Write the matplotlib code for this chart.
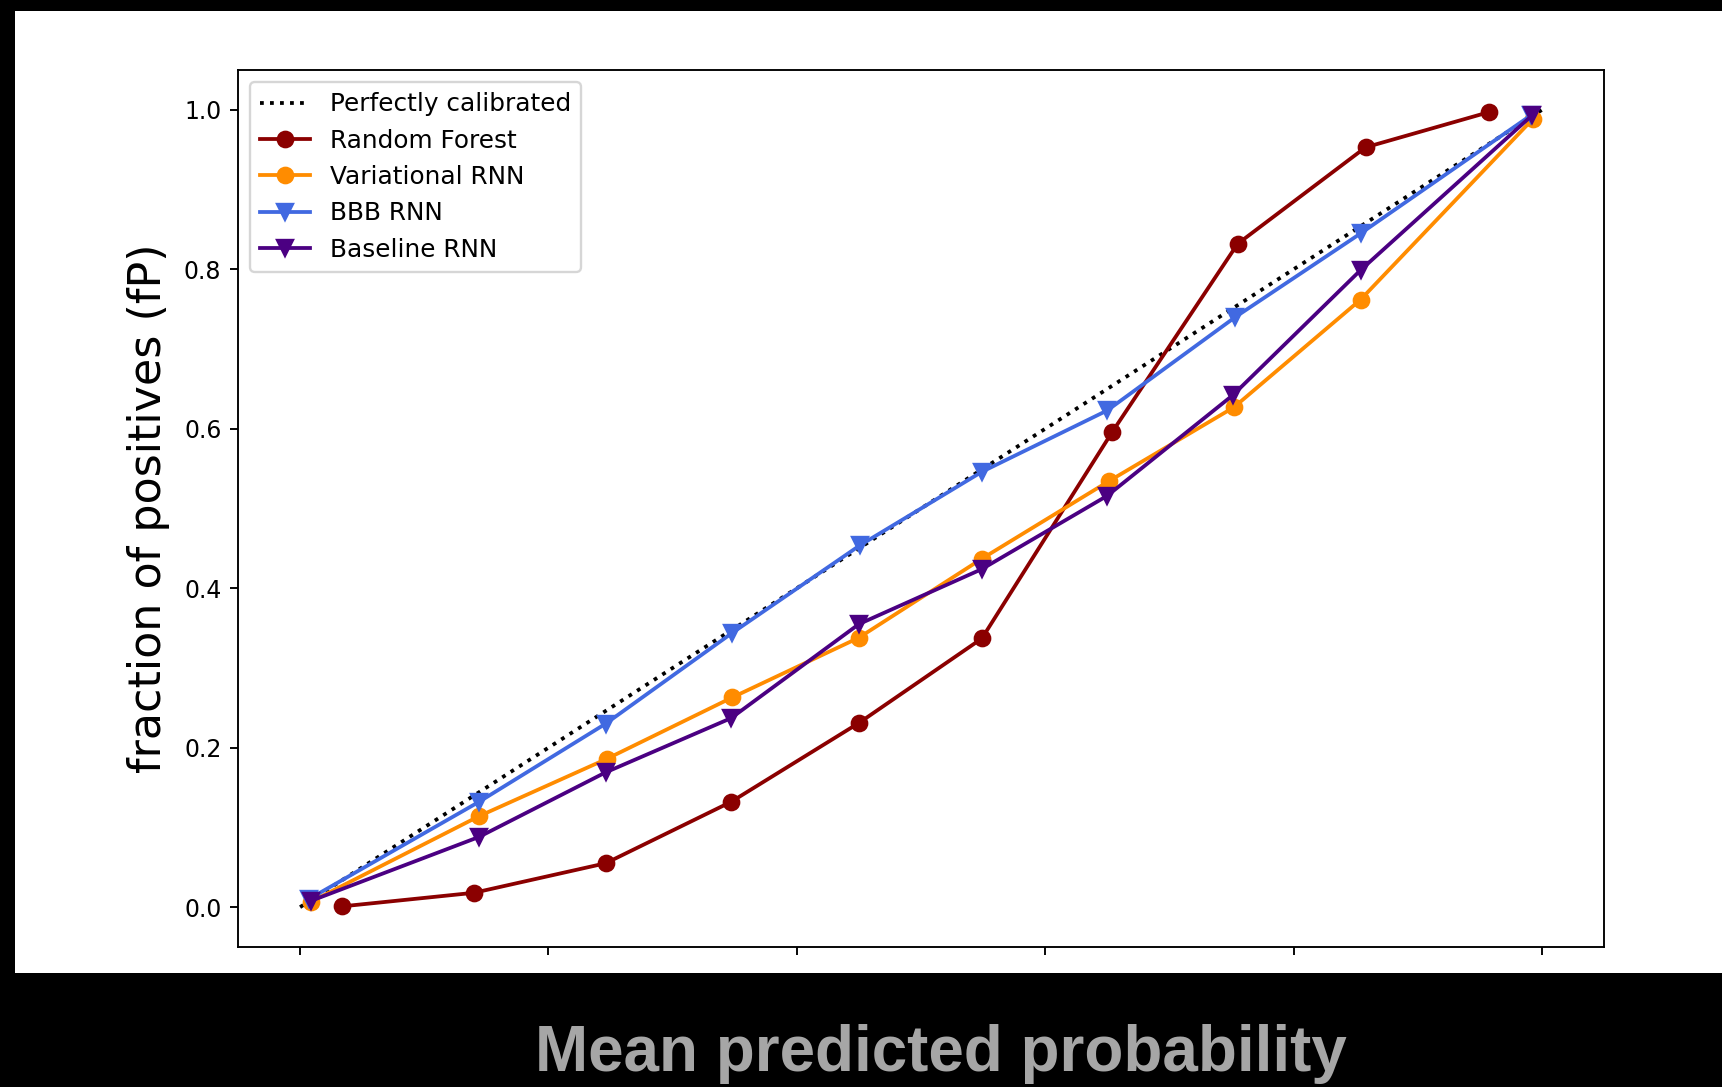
import matplotlib
matplotlib.use("Agg")
import matplotlib.pyplot as plt
from matplotlib.patches import Rectangle

# mean predicted probability / fraction of positives
rf_x = [0.034, 0.140, 0.246, 0.347, 0.450, 0.549, 0.654, 0.755, 0.858, 0.957]
rf_y = [0.001, 0.018, 0.055, 0.132, 0.231, 0.337, 0.596, 0.832, 0.953, 0.997]

vrnn_x = [0.009, 0.144, 0.247, 0.348, 0.450, 0.549, 0.651, 0.752, 0.854, 0.993]
vrnn_y = [0.007, 0.114, 0.186, 0.263, 0.338, 0.437, 0.534, 0.627, 0.762, 0.989]

bbb_x = [0.007, 0.144, 0.246, 0.348, 0.451, 0.549, 0.650, 0.753, 0.854, 0.991]
bbb_y = [0.010, 0.132, 0.230, 0.344, 0.454, 0.546, 0.623, 0.740, 0.845, 0.993]

base_x = [0.009, 0.144, 0.246, 0.347, 0.450, 0.549, 0.650, 0.751, 0.854, 0.992]
base_y = [0.008, 0.088, 0.169, 0.237, 0.355, 0.424, 0.516, 0.642, 0.799, 0.993]

yticks = [0.0, 0.2, 0.4, 0.6, 0.8, 1.0]
xticks = [0.0, 0.2, 0.4, 0.6, 0.8, 1.0]

fig = plt.figure(figsize=(1722 / 170, 1087 / 170), dpi=170, facecolor="black")
# white slide area behind the plot
fig.patches.append(Rectangle((15 / 1722, 1 - 973 / 1087), 1.0, (973 - 11) / 1087,
                             transform=fig.transFigure, facecolor="white",
                             edgecolor="none", zorder=-10))

ax = fig.add_axes([238 / 1722, 1 - 947 / 1087, (1604 - 238) / 1722, (947 - 70) / 1087])
ax.plot([0, 1], [0, 1], "k:", lw=1.6, label="Perfectly calibrated")
ax.plot(rf_x, rf_y, marker="o", ms=6.5, lw=1.6, color="darkred", label="Random Forest")
ax.plot(vrnn_x, vrnn_y, marker="o", ms=6.5, lw=1.6, color="darkorange", label="Variational RNN")
ax.plot(bbb_x, bbb_y, marker="v", ms=6.5, lw=1.6, color="royalblue", label="BBB RNN")
ax.plot(base_x, base_y, marker="v", ms=6.5, lw=1.6, color="indigo", label="Baseline RNN")

ax.set_xlim(-0.05, 1.05)
ax.set_ylim(-0.05, 1.05)
ax.set_yticks(yticks)
ax.set_xticks(xticks)
ax.set_xticklabels([])
ax.set_ylabel("fraction of positives (fP)", fontsize=18.8, labelpad=6)
ax.legend(loc="upper left", fontsize=10.5)

fig.text(941 / 1722, 1 - 1071 / 1087, "Mean predicted probability",
         ha="center", va="baseline", color="#a6a6a6", fontsize=27,
         fontweight="bold", family="Liberation Sans")

fig.savefig("out.png", dpi=170, facecolor=fig.get_facecolor())
